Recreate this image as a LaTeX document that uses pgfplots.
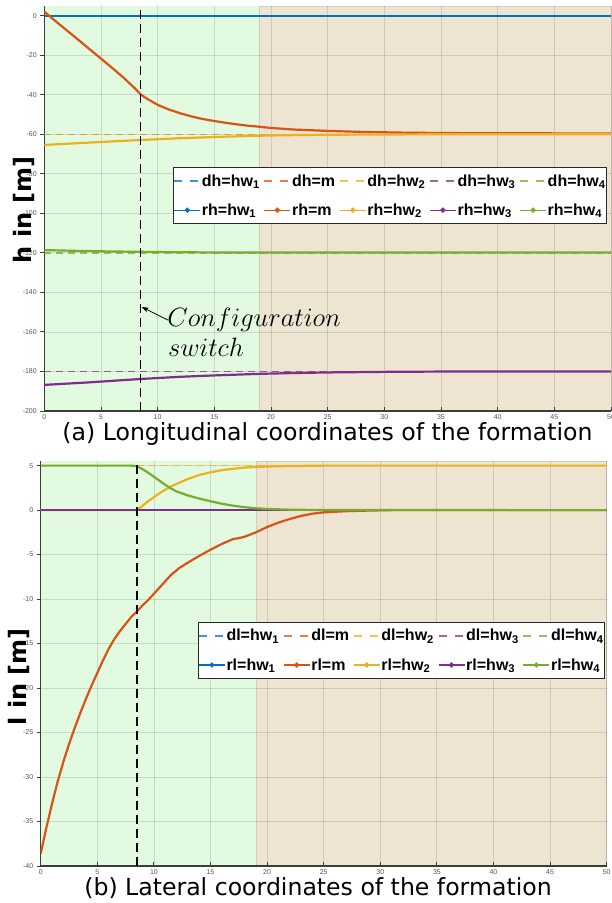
\documentclass[border=0pt]{standalone}
\usepackage{fontspec}
\setmainfont{DejaVu Sans}
\newfontfamily\legfont{Liberation Sans}
\newfontfamily\tickfont{Liberation Sans}
\usepackage{pgfplots}
\pgfplotsset{compat=1.18}
\usetikzlibrary{arrows.meta}

\definecolor{mblue}{RGB}{0,114,189}
\definecolor{morange}{RGB}{217,83,25}
\definecolor{myellow}{RGB}{237,177,32}
\definecolor{mpurple}{RGB}{126,47,142}
\definecolor{mgreen}{RGB}{119,172,48}
\definecolor{bggreen}{RGB}{226,250,224}
\definecolor{bgtan}{RGB}{238,228,210}
\definecolor{tanedge}{RGB}{214,204,186}
\definecolor{tickgray}{RGB}{85,85,85}
\definecolor{spine}{RGB}{55,65,55}

\pgfplotsset{
  formation/.style={
    set layers,
    scale only axis,
    anchor=south west,
    xmin=0, xmax=50,
    xtick={0,5,...,50},
    axis x line*=bottom,
    axis y line*=left,
    axis line style={color=spine, line width=1.2pt},
    xtick align=inside, ytick align=outside,
    major tick length=4pt,
    tick style={color=spine, line width=0.9pt},
    grid=major,
    grid style={black, opacity=0.12, line width=0.8pt},
    ticklabel style={font=\tickfont\fontsize{7}{8}\selectfont, text=tickgray},
    /pgf/number format/assume math mode=true,
    ylabel style={font=\bfseries\fontsize{24}{26}\selectfont, anchor=center},
    legend columns=5,
    legend cell align=left,
    legend style={
      draw={rgb,255:red,40;green,40;blue,40}, line width=0.9pt, fill=white,
      font=\legfont\bfseries\fontsize{16}{18}\selectfont,
      inner xsep=0pt, inner ysep=6pt,
      column sep=0pt,
      /tikz/every even column/.append style={column sep=3pt},
      row sep=14pt,
      nodes={inner xsep=1pt, inner ysep=1pt},
    },
  },
  dsh/.style={line width=1.5pt, dash pattern=on 7pt off 5pt, opacity=0.75,
    legend image code/.code={\draw[##1, line width=1.3pt, dash pattern=on 8pt off 8pt] (0pt,0pt) -- (26pt,0pt);}},
  sol/.style={line width=2.2pt,
    legend image code/.code={\draw[##1, line width=1.3pt] (0pt,0pt) -- (26pt,0pt);
      \fill[##1] (13pt,0pt) circle (1.3pt);}},
  bg/.style={on layer=axis background, draw=none, forget plot},
  switchline/.style={black, line width=1.2pt, dash pattern=on 9pt off 5pt, forget plot},
}

\begin{document}
\begin{tikzpicture}

% (a) longitudinal
\begin{axis}[formation,
  at={(44.3pt,492pt)}, width=566.7pt, height=405.2pt,
  ymin=-200, ymax=5, ytick={-200,-180,...,0},
  ylabel={h in [m]},
  ylabel style={at={(axis description cs:-0.036,0.496)}},
  legend style={at={(0.993,0.602)}, anchor=north east},
]
\addplot[bg, fill=bggreen] coordinates {(0,-200)(19,-200)(19,5)(0,5)} -- cycle;
\addplot[bg, fill=bgtan, draw=tanedge] coordinates {(19,-200)(50,-200)(50,5)(19,5)} -- cycle;

\addplot[mblue, dsh] coordinates {(0,0)(50,0)};
\addlegendentry{dh=hw\textsubscript{1}}
\addplot[morange, dsh] coordinates {(0,-60)(50,-60)};
\addlegendentry{dh=m}
\addplot[myellow, dsh] coordinates {(0,-60)(50,-60)};
\addlegendentry{dh=hw\textsubscript{2}}
\addplot[mpurple, dsh] coordinates {(0,-180)(50,-180)};
\addlegendentry{dh=hw\textsubscript{3}}
\addplot[mgreen, dsh] coordinates {(0,-120)(50,-120)};
\addlegendentry{dh=hw\textsubscript{4}}

\addplot[mblue, sol] coordinates {(0,0)(50,0)};
\addlegendentry{rh=hw\textsubscript{1}}
\addplot[morange, sol] coordinates {
  (0,2)(1,-2.8)(2,-7.5)(3,-12.2)(4,-17)(5,-21.7)(6,-26.5)(7,-31.4)(8,-36.8)
  (8.5,-39.8)(9,-41.8)(10,-45.1)(11,-47.5)(12,-49.4)(13,-51)(14,-52.3)
  (15,-53.3)(16,-54.2)(17,-55)(18,-55.7)(19,-56.2)(20,-56.8)(22,-57.6)
  (25,-58.3)(28,-58.8)(32,-59.2)(36,-59.4)(42,-59.5)(50,-59.6)};
\addlegendentry{rh=m}
\addplot[myellow, sol] coordinates {
  (0,-65.4)(2,-64.8)(4,-64.2)(6,-63.6)(8.5,-62.9)(10,-62.5)(12,-62.0)
  (14,-61.6)(16,-61.2)(18,-60.9)(20,-60.6)(22.5,-60.4)(25,-60.25)
  (30,-60.1)(35,-60.0)(50,-60.0)};
\addlegendentry{rh=hw\textsubscript{2}}
\addplot[mpurple, sol] coordinates {
  (0,-186.8)(4,-185.5)(8.5,-183.8)(12,-182.7)(15,-182)(19,-181.2)
  (22,-180.8)(25,-180.5)(30,-180.2)(35,-180.05)(50,-180)};
\addlegendentry{rh=hw\textsubscript{3}}
\addplot[mgreen, sol] coordinates {
  (0,-118.6)(3,-119.0)(6,-119.3)(9,-119.5)(12,-119.7)(16,-119.8)(50,-119.8)};
\addlegendentry{rh=hw\textsubscript{4}}

\addplot[switchline] coordinates {(8.5,-200)(8.5,5)};

\draw[-{Stealth[length=7pt,width=5pt]}, line width=0.8pt]
  (axis cs:10.9,-154) -- (axis cs:8.6,-147.4);
\node[anchor=base west, inner sep=0pt, scale=1.065, font=\fontsize{24.88}{30}\selectfont]
  at (axis cs:10.85,-157) {$Configuration$};
\node[anchor=base west, inner sep=0pt, scale=1.065, font=\fontsize{24.88}{30}\selectfont]
  at (axis cs:10.9,-172.2) {$switch$};
\end{axis}

% (b) lateral
\begin{axis}[formation,
  at={(40.7pt,37pt)}, width=566pt, height=404.8pt,
  ymin=-40, ymax=5.5, ytick={-40,-35,...,5},
  ylabel={l in [m]},
  ylabel style={at={(axis description cs:-0.038,0.467)}},
  legend style={at={(0.997,0.603)}, anchor=north east},
]
\addplot[bg, fill=bggreen] coordinates {(0,-40)(19,-40)(19,5.5)(0,5.5)} -- cycle;
\addplot[bg, fill=bgtan, draw=tanedge] coordinates {(19,-40)(50,-40)(50,5.5)(19,5.5)} -- cycle;

\addplot[mblue, dsh] coordinates {(0,0)(50,0)};
\addlegendentry{dl=hw\textsubscript{1}}
\addplot[morange, dsh] coordinates {(0,0)(50,0)};
\addlegendentry{dl=m}
\addplot[myellow, dsh] coordinates {(0,5)(50,5)};
\addlegendentry{dl=hw\textsubscript{2}}
\addplot[mpurple, dsh] coordinates {(0,0)(50,0)};
\addlegendentry{dl=hw\textsubscript{3}}
\addplot[mgreen, dsh] coordinates {(0,0)(50,0)};
\addlegendentry{dl=hw\textsubscript{4}}

\addplot[mblue, sol] coordinates {(0,0)(50,0)};
\addlegendentry{rl=hw\textsubscript{1}}
\addplot[morange, sol] coordinates {
  (0,-38.6)(0.5,-35.7)(1,-33.0)(1.5,-30.5)(2,-28.3)(2.5,-26.3)(3,-24.5)
  (3.5,-22.8)(4,-21.2)(4.5,-19.7)(5,-18.3)(5.5,-16.9)(6,-15.6)(6.5,-14.5)
  (7,-13.6)(7.5,-12.8)(8,-12.0)(8.5,-11.4)(9,-10.7)(9.5,-10.1)(10,-9.4)
  (10.5,-8.7)(11,-8.0)(11.5,-7.3)(12.25,-6.5)(13,-5.9)(14,-5.15)(15,-4.45)
  (16,-3.8)(17,-3.25)(17.5,-3.15)(18,-3.0)(19,-2.5)(20,-1.9)(21,-1.4)
  (22,-1.0)(23,-0.65)(24,-0.4)(25,-0.25)(27,-0.12)(29,-0.05)(31,0)(50,0)};
\addlegendentry{rl=m}
\addplot[myellow, sol] coordinates {
  (0,0)(8.5,0)(9,0.5)(9.5,1.0)(10,1.45)(10.5,1.9)(11,2.3)(11.5,2.65)
  (12,2.95)(13,3.5)(14,3.95)(15,4.25)(16,4.5)(17,4.65)(18,4.78)(19,4.85)
  (20,4.9)(22,4.96)(25,5)(50,5)};
\addlegendentry{rl=hw\textsubscript{2}}
\addplot[mpurple, sol] coordinates {(0,0)(50,0)};
\addlegendentry{rl=hw\textsubscript{3}}
\addplot[mgreen, sol] coordinates {
  (0,5)(8,5)(8.5,4.95)(9,4.6)(9.5,4.2)(10,3.75)(10.5,3.3)(11,2.85)
  (11.5,2.45)(12,2.1)(13,1.65)(14,1.3)(15,1.0)(16,0.72)(17,0.5)(18,0.33)
  (19,0.21)(20,0.13)(22,0.05)(25,0.01)(50,0)};
\addlegendentry{rl=hw\textsubscript{4}}

\addplot[switchline] coordinates {(8.5,-40)(8.5,5.5)};
\end{axis}

\node[anchor=base, font=\fontsize{23.6}{28}\selectfont]
  at (327.5pt,462.3pt) {(a) Longitudinal coordinates of the formation};
\node[anchor=base, font=\fontsize{23.6}{28}\selectfont]
  at (318pt,7pt) {(b) Lateral coordinates of the formation};

\pgfresetboundingbox
\path[use as bounding box] (0,0) rectangle (611pt,903pt);
\end{tikzpicture}
\end{document}
